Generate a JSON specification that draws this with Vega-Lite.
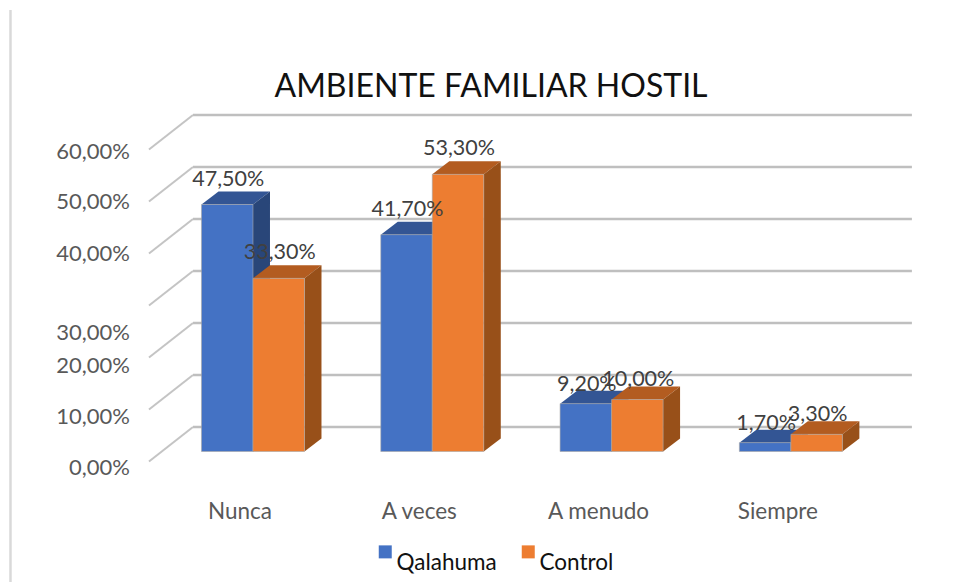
{
"$schema":"https://vega.github.io/schema/vega-lite/v6.json",
"width":963,"height":582,"padding":0,"autosize":{"type":"none"},
"background":"#ffffff",
"title":{"text":"AMBIENTE FAMILIAR HOSTIL","anchor":"middle","frame":"group","dx":9.5,"dy":129,"offset":0,"baseline":"alphabetic","font":"Lato","fontSize":32,"fontWeight":"normal","color":"#111111"},
"datasets":{
"medidas":[
{"categoria":"Nunca","posicion":0,"serie":"Qalahuma","valor":47.5},
{"categoria":"Nunca","posicion":0,"serie":"Control","valor":33.3},
{"categoria":"A veces","posicion":1,"serie":"Qalahuma","valor":41.7},
{"categoria":"A veces","posicion":1,"serie":"Control","valor":53.3},
{"categoria":"A menudo","posicion":2,"serie":"Qalahuma","valor":9.2},
{"categoria":"A menudo","posicion":2,"serie":"Control","valor":10.0},
{"categoria":"Siempre","posicion":3,"serie":"Qalahuma","valor":1.7},
{"categoria":"Siempre","posicion":3,"serie":"Control","valor":3.3}
],
"niveles":[{"nivel":0},{"nivel":10},{"nivel":20},{"nivel":30},{"nivel":40},{"nivel":50},{"nivel":60}],
"rotulos":[
{"rotulo":"60,00%","altura":57.68},
{"rotulo":"50,00%","altura":47.94},
{"rotulo":"40,00%","altura":38.04},
{"rotulo":"30,00%","altura":22.72},
{"rotulo":"20,00%","altura":16.47},
{"rotulo":"10,00%","altura":6.69},
{"rotulo":"0,00%","altura":-3.13}
]
},
"encoding":{
"x":{"field":"x","type":"quantitative","title":null,"scale":{"domain":[-1.411,3.96],"range":[0,963],"nice":false,"zero":false},
"axis":{"values":[0,1,2,3],"labelExpr":"['Nunca','A veces','A menudo','Siempre'][datum.value]","orient":"bottom","offset":-82,"domain":false,"ticks":false,"grid":false,"title":null,"labelOffset":-13.5,"labelPadding":0,"labelBaseline":"top","labelFont":"Lato","labelFontSize":22.5,"labelColor":"#595959","labelOverlap":false,"labelFlush":false,"labelBound":false}},
"y":{"field":"y","type":"quantitative","title":null,"stack":null,"scale":{"domain":[-25.1,86.83],"range":[582,0],"nice":false,"zero":false},"axis":null}
},
"layer":[
{"data":{"values":[{"marco":"izquierda"}]},
"transform":[{"calculate":"-1.3525","as":"x"},{"calculate":"-25.1","as":"y"},{"calculate":"84.9","as":"yb"}],
"mark":{"type":"rule","stroke":"#d9d9d9","strokeWidth":2.5},
"encoding":{"y2":{"field":"yb"}}},
{"data":{"name":"niveles"},
"transform":[{"calculate":"-0.3346","as":"x"},{"calculate":"3.675","as":"xb"},{"calculate":"datum.nivel+4.71","as":"y"}],
"mark":{"type":"rule","stroke":"#bfbfbf","strokeWidth":2.5},
"encoding":{"x2":{"field":"xb"}}},
{"data":{"name":"niveles"},
"transform":[{"calculate":"-0.58","as":"x"},{"calculate":"-0.3346","as":"xb"},{"calculate":"datum.nivel-1.92","as":"y"},{"calculate":"datum.nivel+4.71","as":"yb"}],
"mark":{"type":"rule","stroke":"#c4c4c4","strokeWidth":2},
"encoding":{"x2":{"field":"xb"},"y2":{"field":"yb"}}},
{"data":{"name":"rotulos"},
"transform":[{"calculate":"-0.686","as":"x"},{"calculate":"datum.altura","as":"y"}],
"mark":{"type":"text","align":"right","baseline":"middle","font":"Lato","fontSize":22,"color":"#595959"},
"encoding":{"text":{"field":"rotulo"}}},
{"data":{"name":"medidas"},
"transform":[{"filter":"datum.serie=='Qalahuma'"},{"calculate":"datum.posicion-0.2872","as":"inicio"},{"calculate":"[0,1,2,3]","as":"v"},{"flatten":["v"]},{"calculate":"datum.inicio+[0,0.0948,0.2872,0.382][datum.v]","as":"x"},{"calculate":"datum.valor+[0,0,0,2.5][datum.v]","as":"y"},{"calculate":"datum.valor+[0,2.5,2.5,2.5][datum.v]","as":"yb"}],
"mark":{"type":"area","color":"#335594"},
"encoding":{"y2":{"field":"yb"},"detail":{"field":"categoria"}}},
{"data":{"name":"medidas"},
"transform":[{"filter":"datum.serie=='Qalahuma'"},{"calculate":"datum.posicion-0.2872","as":"inicio"},{"calculate":"[0,1]","as":"v"},{"flatten":["v"]},{"calculate":"datum.inicio+0.2872+[0,0.0948][datum.v]","as":"x"},{"calculate":"[0,2.5][datum.v]","as":"y"},{"calculate":"datum.valor+[0,2.5][datum.v]","as":"yb"}],
"mark":{"type":"area","color":"#294679"},
"encoding":{"y2":{"field":"yb"},"detail":{"field":"categoria"}}},
{"data":{"name":"medidas"},
"transform":[{"filter":"datum.serie=='Control'"},{"calculate":"datum.posicion","as":"inicio"},{"calculate":"[0,1,2,3]","as":"v"},{"flatten":["v"]},{"calculate":"datum.inicio+[0,0.0948,0.2872,0.382][datum.v]","as":"x"},{"calculate":"datum.valor+[0,0,0,2.5][datum.v]","as":"y"},{"calculate":"datum.valor+[0,2.5,2.5,2.5][datum.v]","as":"yb"}],
"mark":{"type":"area","color":"#B35C20"},
"encoding":{"y2":{"field":"yb"},"detail":{"field":"categoria"}}},
{"data":{"name":"medidas"},
"transform":[{"filter":"datum.serie=='Control'"},{"calculate":"datum.posicion","as":"inicio"},{"calculate":"[0,1]","as":"v"},{"flatten":["v"]},{"calculate":"datum.inicio+0.2872+[0,0.0948][datum.v]","as":"x"},{"calculate":"[0,2.5][datum.v]","as":"y"},{"calculate":"datum.valor+[0,2.5][datum.v]","as":"yb"}],
"mark":{"type":"area","color":"#985019"},
"encoding":{"y2":{"field":"yb"},"detail":{"field":"categoria"}}},
{"data":{"name":"medidas"},
"transform":[{"calculate":"datum.posicion-(datum.serie=='Qalahuma'?0.2872:0)","as":"x"},{"calculate":"datum.x+0.2872","as":"xb"},{"calculate":"datum.valor","as":"y"},{"calculate":"0","as":"yb"}],
"mark":{"type":"rect","stroke":"#a6a6a6","strokeWidth":1,"strokeOpacity":0.6},
"encoding":{"x2":{"field":"xb"},"y2":{"field":"yb"},
"color":{"field":"serie","type":"nominal","sort":["Qalahuma","Control"],"scale":{"domain":["Qalahuma","Control"],"range":["#4472C4","#ED7D31"]},
"legend":{"title":null,"orient":"none","legendX":374,"legendY":540.5,"direction":"horizontal","symbolType":"square","symbolSize":169,"symbolStrokeWidth":0,"symbolOpacity":1,"labelOffset":0,"labelBaseline":"top","labelFont":"Lato","labelFontSize":22.5,"labelColor":"#111111","columnPadding":20,"padding":0}}}},
{"data":{"name":"medidas"},
"transform":[{"filter":"datum.valor>20"},{"calculate":"datum.posicion-(datum.serie=='Qalahuma'?0.2872:0)+0.1436","as":"x"},{"calculate":"datum.valor","as":"y"},{"calculate":"replace(format(datum.valor/100,'.2%'),'.',',')","as":"etiqueta"}],
"mark":{"type":"text","align":"center","baseline":"middle","dx":1,"dy":-25,"font":"Lato","fontSize":21.5,"color":"#404040"},
"encoding":{"text":{"field":"etiqueta"}}},
{"data":{"name":"medidas"},
"transform":[{"filter":"datum.valor<=20"},{"calculate":"datum.posicion-(datum.serie=='Qalahuma'?0.2872:0)+0.1436","as":"x"},{"calculate":"datum.valor","as":"y"},{"calculate":"replace(format(datum.valor/100,'.2%'),'.',',')","as":"etiqueta"}],
"mark":{"type":"text","align":"center","baseline":"middle","dx":1,"dy":-19,"font":"Lato","fontSize":21.5,"color":"#404040"},
"encoding":{"text":{"field":"etiqueta"}}}
],
"config":{"view":{"stroke":null}}
}
